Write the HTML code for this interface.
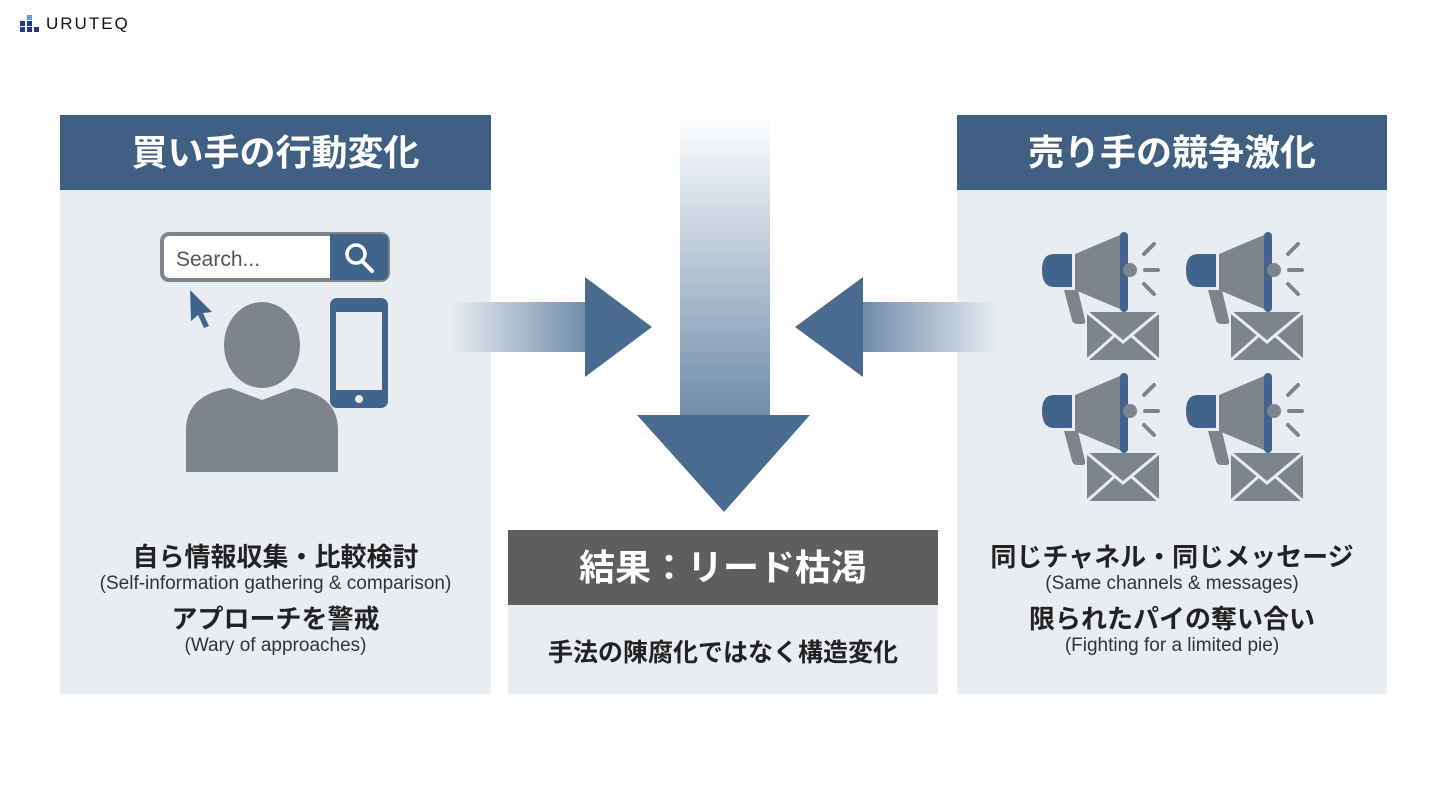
<!DOCTYPE html>
<html><head><meta charset="utf-8"><style>
body{margin:0;width:1440px;height:810px;background:#fff;position:relative;overflow:hidden;font-family:"Liberation Sans","Noto Sans CJK JP",sans-serif}
.a{position:absolute}
.panel{position:absolute;background:#e9edf2}
.hd{position:absolute;left:0;right:0;top:0;height:75px;background:#3f5f83;color:#fff;font-size:36px;font-weight:bold;text-align:center;line-height:75px}
.t{position:absolute;left:0;right:0;text-align:center;color:#222}
.b{font-size:26px;font-weight:bold}
.s{font-size:19px;color:#333}
</style></head><body>
<div class="a" style="left:18px;top:14px">
<svg width="22" height="22"><rect x="9" y="1" width="5" height="5" fill="#5aa0e8"/><rect x="9" y="7" width="5" height="5" fill="#1f3a8a"/><rect x="2" y="13" width="5" height="5" fill="#1f3a8a"/><rect x="9" y="13" width="5" height="5" fill="#1f3a8a"/><rect x="16" y="13" width="5" height="5" fill="#1f3a8a"/><rect x="2" y="7" width="5" height="5" fill="#1f3a8a"/></svg></div>
<div class="a" style="left:46px;top:14px;font-size:17px;letter-spacing:2px;color:#111">URUTEQ</div>

<div class="panel" style="left:60px;top:115px;width:431px;height:579px">
<div class="hd">買い手の行動変化</div>
<div class="t b" style="top:422px">自ら情報収集・比較検討</div>
<div class="t s" style="top:458px">(Self-information gathering &amp; comparison)</div>
<div class="t b" style="top:484px">アプローチを警戒</div>
<div class="t s" style="top:520px">(Wary of approaches)</div>
</div>
<div class="panel" style="left:508px;top:530px;width:430px;height:164px">
<div class="hd" style="background:#5e5e5e">結果：リード枯渇</div>
<div class="t b" style="top:103px;font-size:25px">手法の陳腐化ではなく構造変化</div>
</div>
<div class="panel" style="left:957px;top:115px;width:430px;height:579px">
<div class="hd">売り手の競争激化</div>
<div class="t b" style="top:422px">同じチャネル・同じメッセージ</div>
<div class="t s" style="top:458px">(Same channels &amp; messages)</div>
<div class="t b" style="top:484px">限られたパイの奪い合い</div>
<div class="t s" style="top:520px">(Fighting for a limited pie)</div>
</div>

<svg class="a" style="left:0;top:0" width="1440" height="810">
<defs>
<linearGradient id="gd" x1="0" y1="0" x2="0" y2="1"><stop offset="0" stop-color="#fff"/><stop offset="1" stop-color="#6f8cab"/></linearGradient>
<linearGradient id="gl" x1="0" y1="0" x2="1" y2="0"><stop offset="0" stop-color="#e9edf2"/><stop offset="1" stop-color="#6f8cab"/></linearGradient>
<linearGradient id="gr" x1="1" y1="0" x2="0" y2="0"><stop offset="0" stop-color="#e9edf2"/><stop offset="1" stop-color="#6f8cab"/></linearGradient>
<g id="mega">
<path d="M22 58 L30 88 Q31 92 36 92 L40 92 Q44 92 43 88 L36 58Z" fill="#7d848b"/>
<path d="M12 22 H30 V55 H12 Q0 55 0 38 Q0 22 12 22Z" fill="#41648c"/>
<path d="M33 22 L78 3 V77 L33 58Z" fill="#7d848b"/>
<rect x="78" y="0" width="8" height="80" rx="4" fill="#41648c"/>
<circle cx="88" cy="38" r="7" fill="#7d848b"/>
<g stroke="#7d848b" stroke-width="4" stroke-linecap="round"><line x1="102" y1="22" x2="112" y2="12"/><line x1="103" y1="38" x2="116" y2="38"/><line x1="102" y1="52" x2="112" y2="62"/></g>
<rect x="45" y="80" width="72" height="48" fill="#7d848b"/>
<path d="M45 80 L81 110 L117 80 M45 128 L72 104 M117 128 L90 104" stroke="#e9edf2" stroke-width="3" fill="none"/>
</g>
</defs>
<rect x="680" y="115" width="90" height="302" fill="url(#gd)"/>
<polygon points="637,415 810,415 724,512" fill="#4a6b90"/>
<rect x="450" y="302" width="138" height="50" fill="url(#gl)"/>
<polygon points="585,277 585,377 652,327" fill="#4a6b90"/>
<rect x="862" y="302" width="138" height="50" fill="url(#gr)"/>
<polygon points="863,277 863,377 795,327" fill="#4a6b90"/>

<rect x="162" y="234" width="226" height="46" rx="7" fill="#fff" stroke="#7d848b" stroke-width="4"/>
<path d="M330 234 H381 Q388 234 388 241 V273 Q388 280 381 280 H330Z" fill="#41648c"/>
<circle cx="356" cy="254" r="9" fill="none" stroke="#fff" stroke-width="3.5"/>
<line x1="362" y1="261" x2="372" y2="271" stroke="#fff" stroke-width="4" stroke-linecap="round"/>
<text x="176" y="266" font-size="21" fill="#555" font-family="Liberation Sans,sans-serif">Search...</text>
<path d="M190 290 L212 312 L203 313 L209 326 L204 328 L198 315 L191 321Z" fill="#41648c"/>
<ellipse cx="262" cy="345" rx="38" ry="43" fill="#7d848b"/>
<path d="M186 472 V430 Q186 395 230 388 L262 400 L294 388 Q338 395 338 430 V472Z" fill="#7d848b"/>
<rect x="330" y="298" width="58" height="110" rx="7" fill="#41648c"/>
<rect x="336" y="312" width="46" height="78" fill="#e9edf2"/>
<circle cx="359" cy="399" r="4" fill="#e9edf2"/>

<use href="#mega" x="1042" y="232"/>
<use href="#mega" x="1186" y="232"/>
<use href="#mega" x="1042" y="373"/>
<use href="#mega" x="1186" y="373"/>
</svg>
</body></html>
